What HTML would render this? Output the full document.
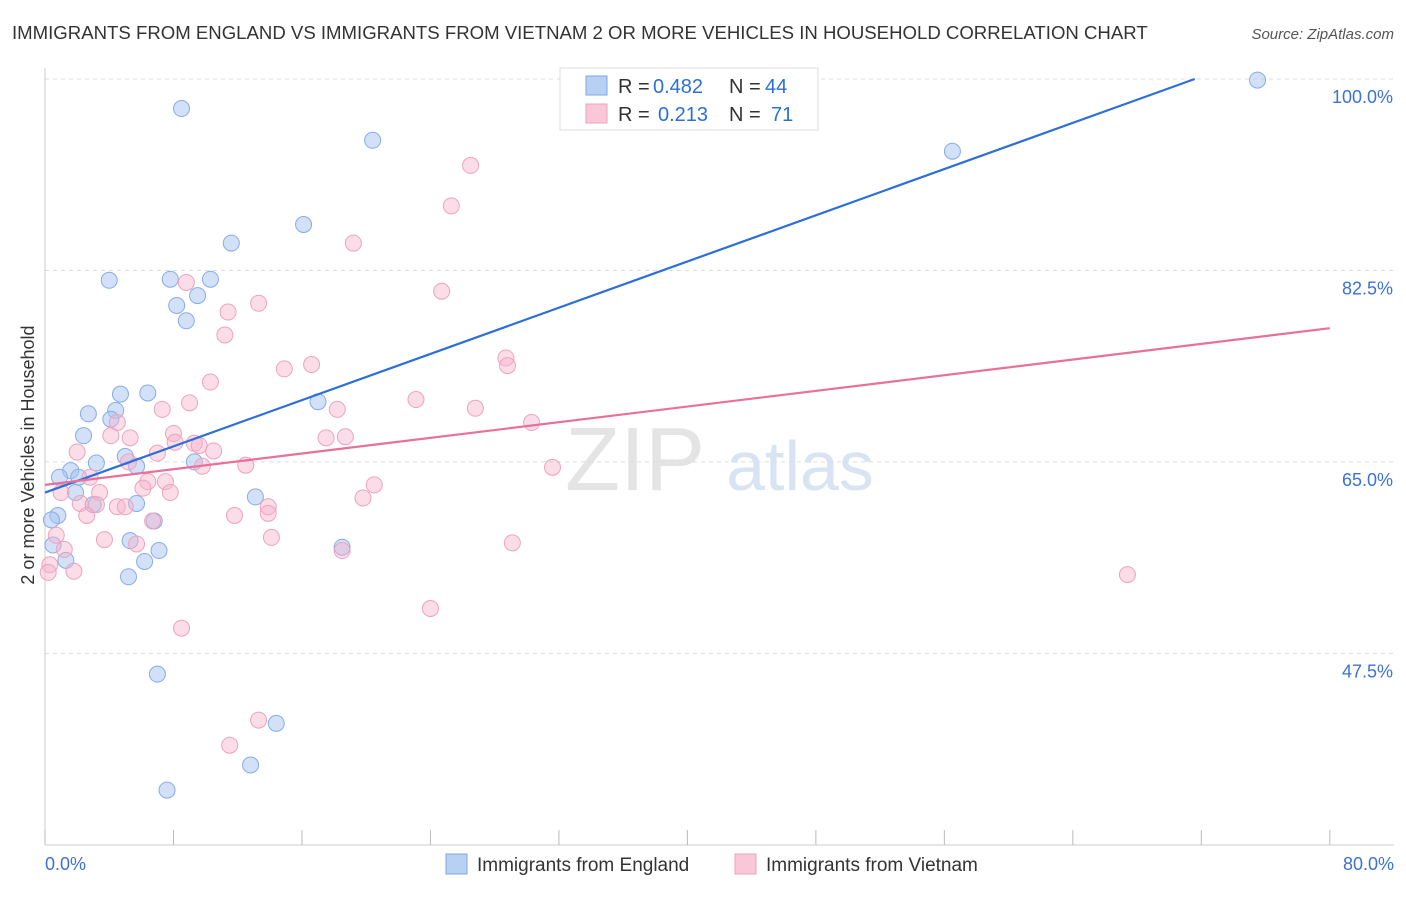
<!DOCTYPE html>
<html><head><meta charset="utf-8"><style>
body{margin:0;background:#fff;font-family:"Liberation Sans",sans-serif;}
svg text{font-family:"Liberation Sans",sans-serif;}
</style></head><body>
<svg id="c" width="1406" height="892">
<text x="12" y="39" font-size="18.6" fill="#333">IMMIGRANTS FROM ENGLAND VS IMMIGRANTS FROM VIETNAM 2 OR MORE VEHICLES IN HOUSEHOLD CORRELATION CHART</text>
<text x="1394" y="39" font-size="15" fill="#555" font-style="italic" text-anchor="end">Source: ZipAtlas.com</text>
<text x="34" y="455" font-size="18" fill="#333" text-anchor="middle" transform="rotate(-90 34 455)">2 or more Vehicles in Household</text>
<text x="635" y="490" font-size="90" fill="#e4e4e4" font-family="Liberation Serif" text-anchor="middle">ZIP</text>
<text x="800" y="490" font-size="70" fill="#d8e4f4" text-anchor="middle">atlas</text>
<g id="grid"></g><g id="pts"></g><g id="lines"></g>
<g>
<rect x="560" y="68" width="258" height="62" fill="#fff" stroke="#ddd"/>
<rect x="586" y="76" width="21" height="19" fill="#b8d0f4" stroke="#7fa6e0"/>
<text x="618" y="93" font-size="20" fill="#333">R =</text>
<text x="653" y="93" font-size="20" fill="#2d6fd6">0.482</text>
<text x="729" y="93" font-size="20" fill="#333">N =</text>
<text x="765" y="93" font-size="20" fill="#2d6fd6">44</text>
<rect x="586" y="104" width="21" height="19" fill="#f9c7d8" stroke="#eea0bc"/>
<text x="618" y="121" font-size="20" fill="#333">R =</text>
<text x="658" y="121" font-size="20" fill="#2d6fd6">0.213</text>
<text x="729" y="121" font-size="20" fill="#333">N =</text>
<text x="771" y="121" font-size="20" fill="#2d6fd6">71</text>
</g>
<g>
<rect x="446" y="854" width="21" height="20" fill="#b8d0f4" stroke="#7fa6e0"/>
<text x="477" y="871" font-size="19" fill="#333">Immigrants from England</text>
<rect x="735" y="854" width="21" height="20" fill="#f9c7d8" stroke="#eea0bc"/>
<text x="766" y="871" font-size="19" fill="#333">Immigrants from Vietnam</text>
</g>
</svg>
<script>
const yTicks=[100,82.5,65,47.5];
const xTickLabels=["0.0%","80.0%"];
const engX=[75.5,56.5,8.5,20.4,16.1,11.6,4.0,7.8,10.3,9.5,8.2,8.8,17.0,4.7,6.4,2.7,4.4,4.1,2.4,5.0,3.2,5.7,9.3,1.6,0.9,2.1,1.9,13.1,3.0,5.7,0.8,0.4,6.8,5.3,7.1,0.5,18.5,1.3,6.2,5.2,7.0,14.4,12.8,7.6];
const engY=[99.9,93.4,97.3,94.4,86.7,85.0,81.6,81.7,81.7,80.2,79.3,77.9,70.5,71.2,71.3,69.4,69.7,68.9,67.4,65.5,64.9,64.6,65.0,64.2,63.6,63.6,62.2,61.8,61.1,61.2,60.1,59.7,59.6,57.8,56.9,57.4,57.2,56.0,55.9,54.5,45.6,41.1,37.3,35.0];
const vieX=[26.5,25.3,19.2,24.7,8.8,13.3,11.4,11.2,16.6,14.9,28.7,28.8,10.3,23.1,26.8,9.0,7.3,18.2,30.3,4.5,4.1,5.3,8.0,8.1,9.3,9.6,17.5,18.7,7.0,10.5,2.0,5.2,9.8,12.5,31.6,2.8,6.4,7.5,6.1,20.5,1.0,3.4,7.8,19.8,3.2,2.2,4.5,5.0,13.9,2.6,13.9,11.8,6.7,0.7,3.7,14.1,5.7,29.1,1.2,18.5,0.3,1.8,0.2,67.4,24.0,8.5,13.3,11.5];
const vieY=[92.1,88.4,85.0,80.6,81.4,79.5,78.7,76.6,73.9,73.5,74.5,73.8,72.3,70.7,69.9,70.4,69.8,69.8,68.6,68.6,67.4,67.2,67.6,66.8,66.7,66.5,67.2,67.3,65.8,66.0,65.9,65.0,64.6,64.7,64.5,63.6,63.2,63.2,62.6,62.9,62.2,62.2,62.2,61.7,61.1,61.2,60.9,60.9,60.9,60.1,60.3,60.1,59.6,58.3,57.9,58.1,57.5,57.6,57.0,56.9,55.6,55.0,54.9,54.7,51.6,49.8,41.4,39.1];
const engFit=[62.2,0.528];
const vieFit=[62.9,0.179];
const NS="http://www.w3.org/2000/svg";
const xs=v=>45+v*16.06, ys=v=>79+(100-v)*10.94;
function mk(t,a,p){const e=document.createElementNS(NS,t);for(const k in a)e.setAttribute(k,a[k]);p.appendChild(e);return e;}
const g=document.getElementById('grid');
yTicks.forEach(t=>{
 const l=mk('line',{x1:45,x2:1394,y1:ys(t),y2:ys(t),stroke:'#ddd','stroke-dasharray':'4 4'},g);
 
 
 const tx=mk('text',{x:1393,y:ys(t)+24,'font-size':18,fill:'#3c72d4','text-anchor':'end'},g);
 tx.textContent=t.toFixed(1)+'%';
 
 
});
mk('line',{x1:45,x2:45,y1:68,y2:845,stroke:'#ccc'},g);
mk('line',{x1:45,x2:1394,y1:845,y2:845,stroke:'#ccc'},g);
for(let i=0;i<=10;i++){const l=mk('line',{x1:xs(i*8),x2:xs(i*8),y1:830,y2:845,stroke:'#bbb'},g);
 
 }
[[0,'start',45],[80,'end',1394]].forEach((d,i)=>{const t=mk('text',{x:d[2],y:870,'font-size':18,fill:'#3c72d4','text-anchor':d[1]},g);t.textContent=xTickLabels[i];
 
 });
const p=document.getElementById('pts');
engX.forEach((x,i)=>{const c=mk('circle',{cx:xs(x),cy:ys(engY[i]),r:8,fill:'rgba(165,195,242,0.5)',stroke:'#86ace6','stroke-width':1},p);
 
 });
vieX.forEach((x,i)=>{const c=mk('circle',{cx:xs(x),cy:ys(vieY[i]),r:8,fill:'rgba(247,180,205,0.45)',stroke:'#eea2be','stroke-width':1},p);
 
 });
const L=document.getElementById('lines');
const xe=Math.min(80,(100-engFit[0])/engFit[1]);
const bl=mk('line',{x1:xs(0),y1:ys(engFit[0]),x2:xs(xe),y2:ys(engFit[0]+engFit[1]*xe),stroke:'#2d6fd6','stroke-width':2.2},L);


const pl=mk('line',{x1:xs(0),y1:ys(vieFit[0]),x2:xs(80),y2:ys(vieFit[0]+vieFit[1]*80),stroke:'#e8709a','stroke-width':2.2},L);


</script>
</body></html>
